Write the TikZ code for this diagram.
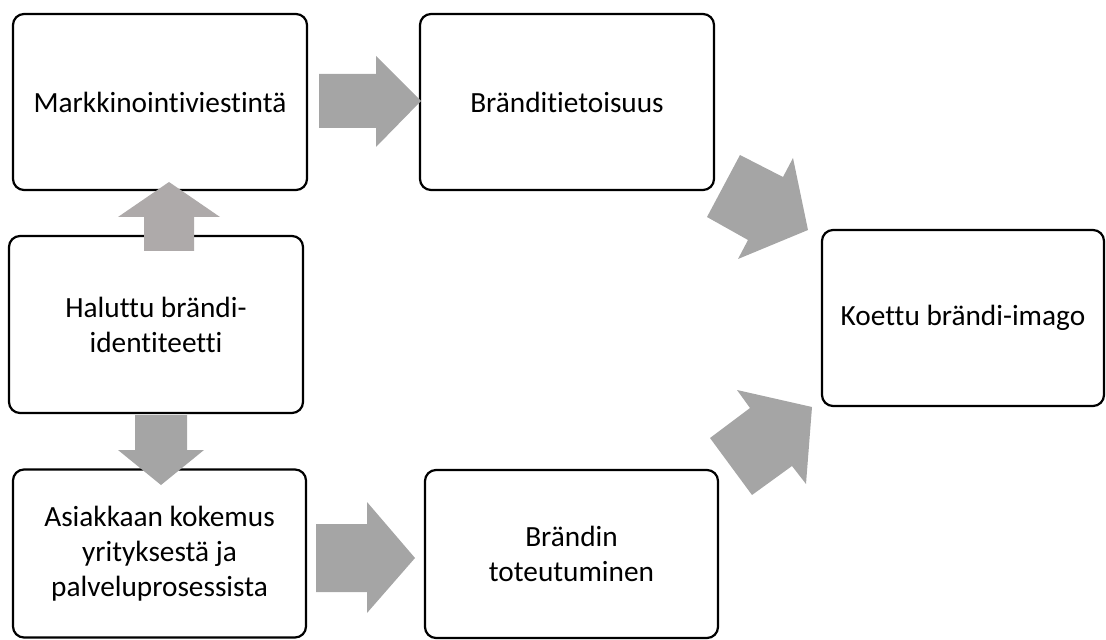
\documentclass[tikz,border=0pt]{standalone}
\usepackage{fontspec}
\setmainfont{Carlito}[Ligatures=NoCommon]
\begin{document}
\begin{tikzpicture}[x=1bp,y=-1bp,
  box/.style={draw=black, line width=2.2bp, rounded corners=11bp, fill=white,
    align=center, inner sep=0pt, outer sep=0pt,
    font=\fontsize{29.3bp}{35bp}\selectfont},
  blockarrow/.style={fill=arrowgray, draw=none},
  blockarrowwarm/.style={fill=arrowwarm, draw=none}]
\definecolor{arrowgray}{HTML}{A5A5A5}
\definecolor{arrowwarm}{HTML}{AEAAAA}
\useasboundingbox (0,0) rectangle (1106,640);
% boxes
\node[box, minimum width=294bp, minimum height=176bp] (mark) at (160,102) {Markkinointiviestintä};
\node[box, minimum width=294bp, minimum height=176bp] (tiet) at (567,102) {Bränditietoisuus};
\node[box, minimum width=294bp, minimum height=177bp] (halu) at (156,324.5) {Haluttu brändi-\\identiteetti};
\node[box, minimum width=293bp, minimum height=168bp] (asia) at (159.5,553.5) {Asiakkaan kokemus\\yrityksestä ja\\palveluprosessista};
\node[box, minimum width=293bp, minimum height=168bp] (tote) at (571.5,554) {Brändin\\toteutuminen};
\node[box, minimum width=282bp, minimum height=176bp] (koet) at (963,318) {Koettu brändi-imago};
% block arrows
% Markkinointiviestinta -> Brandtietoisuus
\fill[blockarrow] (319,74) -- (376,74) -- (376,56) -- (421,101) -- (376,147) -- (376,128) -- (319,128) -- cycle;
% Haluttu -> Markkinointiviestinta
\fill[blockarrowwarm] (144,251) -- (144,217) -- (118,217) -- (169,182) -- (220,217) -- (194,217) -- (194,251) -- cycle;
% Haluttu -> Asiakkaan kokemus
\fill[blockarrow] (135,415) -- (187,415) -- (187,450) -- (204,450) -- (161,485) -- (118,450) -- (135,450) -- cycle;
% Asiakkaan kokemus -> Brandin toteutuminen
\fill[blockarrow] (316,524) -- (367,524) -- (367,502) -- (415,558) -- (367,613) -- (367,592) -- (316,592) -- cycle;
% Brandtietoisuus -> Koettu
\fill[blockarrow] (740,155) -- (783,177) -- (793,158) -- (808,230) -- (738,259) -- (748,240) -- (707,217) -- cycle;
% Brandin toteutuminen -> Koettu
\fill[blockarrow] (710,438) -- (750,408) -- (737,390) -- (812,407) -- (806,484) -- (792,466) -- (752,495) -- cycle;
\end{tikzpicture}
\end{document}
